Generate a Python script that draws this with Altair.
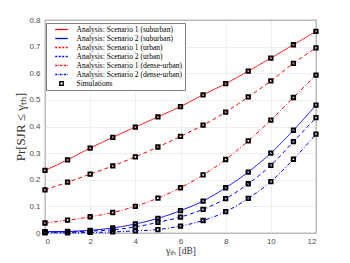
import altair as alt
import pandas as pd

x_db = list(range(13))

series_names = [
    "Analysis: Scenario 1 (suburban)",
    "Analysis: Scenario 2 (suburban)",
    "Analysis: Scenario 1 (urban)",
    "Analysis: Scenario 2 (urban)",
    "Analysis: Scenario 1 (dense-urban)",
    "Analysis: Scenario 2 (dense-urban)",
]
sim_name = "Simulations"

s1_suburban = [0.235, 0.275, 0.319, 0.359, 0.398, 0.436, 0.475, 0.519, 0.561, 0.608, 0.657, 0.707, 0.757]
s2_suburban = [0.005, 0.006, 0.010, 0.019, 0.034, 0.055, 0.084, 0.120, 0.170, 0.229, 0.300, 0.386, 0.480]
s1_urban = [0.162, 0.191, 0.221, 0.252, 0.286, 0.323, 0.363, 0.405, 0.454, 0.511, 0.571, 0.637, 0.695]
s2_urban = [0.003, 0.004, 0.007, 0.012, 0.023, 0.040, 0.060, 0.089, 0.129, 0.185, 0.254, 0.343, 0.433]
s1_dense = [0.0375, 0.048, 0.061, 0.077, 0.100, 0.131, 0.170, 0.218, 0.276, 0.346, 0.424, 0.509, 0.593]
s2_dense = [0.001, 0.001, 0.002, 0.004, 0.008, 0.013, 0.026, 0.047, 0.080, 0.130, 0.193, 0.277, 0.371]

all_series = [s1_suburban, s2_suburban, s1_urban, s2_urban, s1_dense, s2_dense]

legend_domain = series_names + [sim_name]
legend_colors = ["#ff0000", "#0000ff", "#ff0000", "#0000ff", "#ff0000", "#0000ff", "#000000"]
solid = [1, 0]
dashed = [4, 3]
dashdot = [4, 2, 1, 2]
line_dashes = [solid, solid, dashed, dashed, dashdot, dashdot]

SYM_SIZE = 49          # legend / marker symbol area
UNIT = 7.0             # px per path unit at SYM_SIZE (sqrt of size)
HALF = 1.8             # legend line half-length in path units


def dash_path(pattern):
    if pattern == solid:
        return f"M{-HALF},0H{HALF}"
    segs = []
    pos = -HALF
    i = 0
    while pos < HALF:
        length = pattern[i % len(pattern)] / UNIT
        end = min(pos + length, HALF)
        if i % 2 == 0:
            segs.append(f"M{pos:.3f},0H{end:.3f}")
        pos = end
        i += 1
    return "".join(segs)


legend_shapes = [dash_path(d) for d in line_dashes] + ["M-0.5,-0.5H0.5V0.5H-0.5Z"]

line_rows = []
sim_rows = []
for name, vals in zip(series_names, all_series):
    for x, v in zip(x_db, vals):
        line_rows.append({"x": x, "y": v, "legend": name})
        sim_rows.append({"x": x, "y": v, "legend": sim_name, "curve": name})
line_df = pd.DataFrame(line_rows)
sim_df = pd.DataFrame(sim_rows)

x_enc = alt.X("x:Q", scale=alt.Scale(domain=[0, 12], nice=False),
              axis=alt.Axis(values=[0, 2, 4, 6, 8, 10, 12], title="γₜₕ [dB]"))
y_enc = alt.Y("y:Q", scale=alt.Scale(domain=[0, 0.8], nice=False),
              axis=alt.Axis(values=[0, 0.1, 0.2, 0.3, 0.4, 0.5, 0.6, 0.7, 0.8],
                            format="~g", title="Pr[SJR ≤ γₜₕ]"))

color_enc = alt.Color("legend:N", scale=alt.Scale(domain=legend_domain, range=legend_colors),
                      legend=alt.Legend(
                          title=None, orient="none", legendX=1, legendY=3,
                          fillColor="white", strokeColor="#7f7f7f", padding=2,
                          labelFont="Liberation Serif", labelFontSize=7.5, labelColor="#000000",
                          symbolSize=SYM_SIZE, symbolStrokeWidth=1.3, symbolOffset=9,
                          labelOffset=10.5, rowPadding=1.0, labelLimit=200,
                      ))

lines = alt.Chart(line_df).mark_line(strokeWidth=1, interpolate="monotone").encode(
    x=x_enc, y=y_enc,
    color=color_enc,
    strokeDash=alt.StrokeDash("legend:N", scale=alt.Scale(domain=series_names, range=line_dashes),
                              legend=None),
    detail="legend:N",
)

points = alt.Chart(sim_df).mark_point(filled=False, strokeWidth=1.8, size=SYM_SIZE, opacity=1).encode(
    x=x_enc, y=y_enc,
    color=color_enc,
    shape=alt.Shape("legend:N", scale=alt.Scale(domain=legend_domain, range=legend_shapes)),
    detail="curve:N",
)

chart = alt.layer(lines, points).properties(
    width=271, height=213,
    autosize=alt.AutoSizeParams(type="none"),
    padding={"left": 37, "top": 12, "right": 26, "bottom": 30},
).configure_view(
    stroke="#333333", strokeWidth=0.8
).configure_axis(
    domain=False, ticks=False,
    grid=True, gridColor="#e3e3e3", gridWidth=0.6,
    labelFont="Liberation Sans", labelFontSize=8, labelColor="#4d4d4d",
    titleFont="Liberation Serif", titleFontWeight="normal", titleColor="#333333",
).configure_axisX(
    labelPadding=4, titlePadding=0, titleFontSize=9.5
).configure_axisY(
    labelPadding=5, titlePadding=1, titleFontSize=13
)

chart.save("out.html", embed_options={"renderer": "svg", "actions": False})
